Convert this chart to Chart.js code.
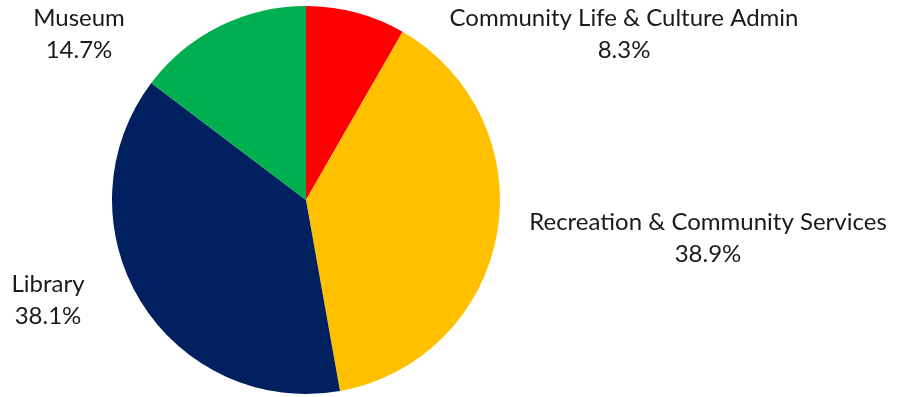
<!DOCTYPE html>
<html>
<head>
<meta charset="utf-8">
<script src="https://cdn.jsdelivr.net/npm/chart.js@4"></script>
<style>
  html, body { margin: 0; padding: 0; background: #fff; }
  #wrap { width: 904px; height: 397px; }
</style>
</head>
<body>
<div id="wrap"><canvas id="budgetPie" width="904" height="397"></canvas></div>
<script>
const categories = ["Community Life & Culture Admin", "Recreation & Community Services", "Library", "Museum"];
const shares = [8.3, 38.9, 38.1, 14.7];
const sliceColors = ["#FF0000", "#FFC000", "#002060", "#00B050"];

// where each two-line label sits (centre x, first line y)
const labelSpots = [
  { x: 624, y: 18 },
  { x: 708, y: 222 },
  { x: 48, y: 284 },
  { x: 79, y: 18 }
];

const outsideLabels = {
  id: "outsideLabels",
  afterDatasetsDraw(chart) {
    const ctx = chart.ctx;
    ctx.save();
    ctx.font = "24px Lato";
    ctx.fillStyle = "#1a1a1a";
    ctx.textAlign = "center";
    ctx.textBaseline = "middle";
    categories.forEach((name, i) => {
      const spot = labelSpots[i];
      ctx.fillText(name, spot.x, spot.y);
      ctx.fillText(shares[i].toFixed(1) + "%", spot.x, spot.y + 32);
    });
    ctx.restore();
  }
};

new Chart(document.getElementById("budgetPie"), {
  type: "pie",
  data: {
    labels: categories,
    datasets: [{
      data: shares,
      backgroundColor: sliceColors,
      borderWidth: 0
    }]
  },
  options: {
    responsive: false,
    animation: false,
    layout: { padding: { left: 112, right: 404, top: 6, bottom: 3 } },
    plugins: {
      legend: { display: false },
      tooltip: { enabled: false }
    }
  },
  plugins: [outsideLabels]
});
</script>
</body>
</html>
